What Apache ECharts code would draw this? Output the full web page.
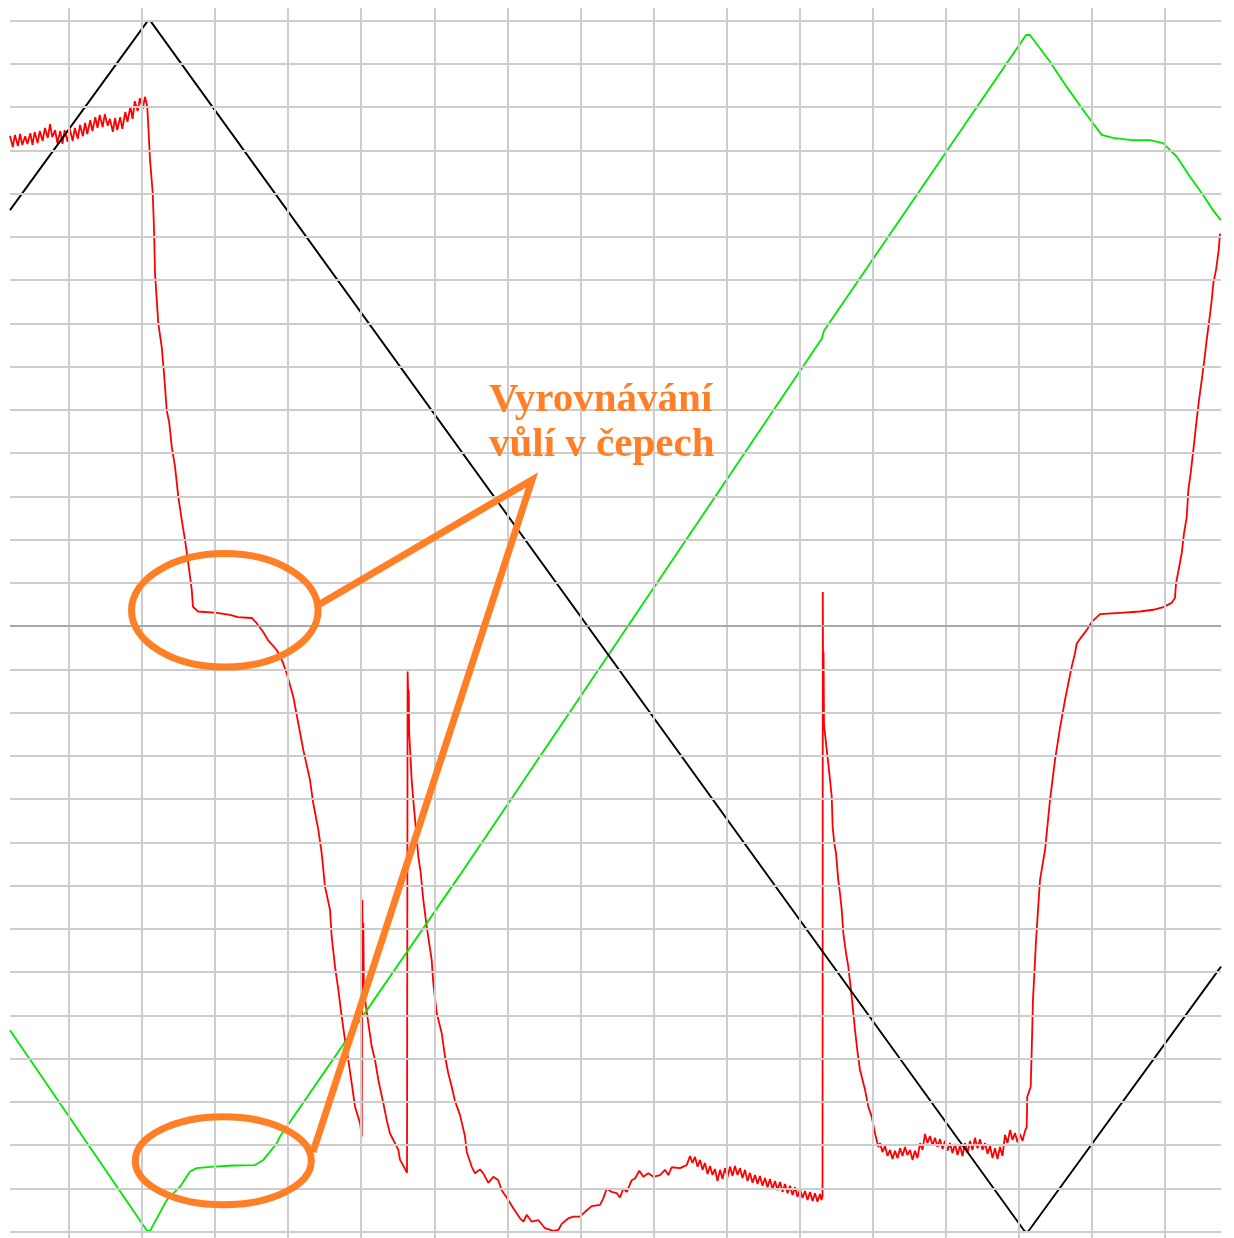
<!DOCTYPE html>
<html>
<head>
<meta charset="utf-8">
<script src="https://cdn.jsdelivr.net/npm/echarts@6/dist/echarts.min.js"></script>
<style>
  html, body { margin: 0; padding: 0; background: #ffffff; }
  #chart { width: 1234px; height: 1238px; }
</style>
</head>
<body>
<div id="chart"></div>
<script>
// Units: one screen division per grid cell. x = time divisions, y = signal divisions (0 = centre line).
const X_MIN = -0.808, X_MAX = 15.770;
const Y_MIN = -14.146, Y_MAX = 14.294;

// Graticule positions (divisions)
const gridXs = [0, 1, 2, 3, 4, 5, 6, 7, 8, 9, 10, 11, 12, 13, 14, 15];
const gridYs = [-14, -13, -12, -11, -10, -9, -8, -7, -6, -5, -4, -3, -2, -1, 1, 2, 3, 4, 5, 6, 7, 8, 9, 10, 11, 12, 13, 14];
const centreY = 0;

// Black trace: triangular drive signal
const blackTrace = [
  [-0.808, 9.62], [1.075, 13.99], [1.116, 13.99], [13.087, -14.0], [13.128, -14.0], [15.770, -7.87]
];

// Green trace: position with two dwell plateaus
const greenTrace = [
  [-0.808, -9.34], [1.068, -13.98], [1.109, -13.98], [1.337, -13.27], [1.520, -12.96], [1.656, -12.61],
  [1.748, -12.53], [1.930, -12.50], [2.249, -12.47], [2.546, -12.46], [2.660, -12.34], [2.843, -11.96],
  [2.888, -11.80], [5.352, -5.75], [10.308, 6.66], [10.335, 6.83], [13.101, 13.67], [13.155, 13.67],
  [13.429, 13.05], [13.658, 12.47], [13.932, 11.82], [14.137, 11.36], [14.292, 11.29], [14.548, 11.24],
  [14.798, 11.24], [14.976, 11.17], [15.163, 10.86], [15.346, 10.39], [15.524, 9.97], [15.661, 9.62],
  [15.766, 9.39]
];

// Red trace, in consecutive sections
const redLead = [
  [-0.808, 11.34], [-0.77, 11.08], [-0.74, 11.36], [-0.70, 11.10], [-0.67, 11.38], [-0.64, 11.13], [-0.60, 11.33],
  [-0.57, 11.15], [-0.53, 11.40], [-0.50, 11.13], [-0.47, 11.43], [-0.43, 11.17], [-0.40, 11.45], [-0.36, 11.22],
  [-0.33, 11.52], [-0.29, 11.29], [-0.26, 11.61], [-0.23, 11.31], [-0.19, 11.47], [-0.16, 11.17], [-0.12, 11.45],
  [-0.09, 11.15], [-0.06, 11.47], [-0.02, 11.20], [0.01, 11.50], [0.05, 11.22], [0.08, 11.52], [0.12, 11.27],
  [0.15, 11.59], [0.19, 11.33], [0.22, 11.64], [0.25, 11.38], [0.29, 11.70], [0.32, 11.45], [0.36, 11.77],
  [0.39, 11.52], [0.42, 11.82], [0.46, 11.54], [0.49, 11.84], [0.53, 11.57], [0.56, 11.73], [0.60, 11.43],
  [0.63, 11.75], [0.66, 11.47], [0.70, 11.77], [0.73, 11.50], [0.77, 11.89], [0.80, 11.66], [0.84, 12.01],
  [0.87, 11.73], [0.90, 12.14], [0.94, 11.91], [0.97, 12.21], [1.01, 11.96], [1.04, 12.24], [1.07, 12.03]
];
const redFall = [
  [1.086, 11.55], [1.109, 10.78], [1.146, 10.01], [1.164, 9.16], [1.177, 8.16], [1.201, 7.54], [1.222, 7.00],
  [1.269, 6.46], [1.300, 5.85], [1.337, 5.00], [1.373, 4.69], [1.406, 4.15], [1.451, 3.69], [1.496, 2.99],
  [1.543, 2.46], [1.588, 1.99], [1.633, 1.45], [1.680, 0.84], [1.697, 0.45], [1.766, 0.34], [2.022, 0.31],
  [2.204, 0.26], [2.313, 0.21], [2.501, 0.19], [2.569, 0.07], [2.656, -0.13], [2.724, -0.32], [2.843, -0.55],
  [2.930, -0.85], [2.980, -1.09], [3.070, -1.63], [3.139, -2.25], [3.207, -2.86], [3.299, -3.56], [3.344, -4.10],
  [3.413, -4.71], [3.459, -5.25], [3.504, -6.02], [3.573, -6.56], [3.596, -7.18], [3.641, -7.87], [3.687, -8.41],
  [3.733, -9.03], [3.778, -9.57], [3.823, -10.03], [3.870, -10.57], [3.915, -11.11], [3.984, -11.49], [4.007, -11.80]
];
const redSpikes = [
  [4.015, -6.33], [4.025, -8.30], [4.029, -6.86], [4.036, -8.41], [4.066, -8.80], [4.097, -9.18], [4.144, -9.72],
  [4.189, -10.03], [4.234, -10.49], [4.303, -11.03], [4.349, -11.42], [4.394, -11.73], [4.463, -11.96],
  [4.508, -12.11], [4.531, -12.34], [4.572, -12.46], [4.606, -12.57], [4.627, -12.64],
  [4.635, -1.05], [4.645, -1.71], [4.650, -1.48], [4.657, -2.47], [4.691, -3.56], [4.713, -4.02], [4.746, -4.64],
  [4.782, -5.33], [4.815, -5.71], [4.850, -6.33], [4.897, -6.95], [4.965, -7.72], [4.987, -8.26], [5.034, -8.95],
  [5.102, -9.41], [5.147, -9.95], [5.192, -10.34], [5.239, -10.65], [5.284, -10.98], [5.352, -11.30], [5.421, -11.80]
];
const redFloor = [
  [5.444, -12.15], [5.513, -12.50], [5.558, -12.65], [5.626, -12.56], [5.671, -12.65], [5.740, -12.87],
  [5.808, -12.73], [5.877, -12.81], [5.923, -13.04], [6.014, -13.27], [6.082, -13.46], [6.174, -13.69],
  [6.219, -13.77], [6.266, -13.61], [6.334, -13.77], [6.424, -13.73], [6.516, -13.92], [6.630, -13.98],
  [6.698, -13.96], [6.745, -13.82], [6.835, -13.69], [6.903, -13.65], [6.995, -13.65], [7.064, -13.54],
  [7.155, -13.41], [7.269, -13.38], [7.314, -13.23], [7.361, -13.00], [7.429, -13.08], [7.498, -13.11],
  [7.543, -13.21], [7.588, -13.00], [7.635, -13.08], [7.703, -12.81], [7.748, -12.77], [7.807, -12.59],
  [7.862, -12.73], [7.930, -12.65], [7.999, -12.73], [8.090, -12.69], [8.159, -12.57], [8.204, -12.69],
  [8.250, -12.51], [8.364, -12.53], [8.456, -12.46],
  [8.501, -12.25], [8.535, -12.41], [8.570, -12.27], [8.604, -12.50], [8.638, -12.34], [8.672, -12.57],
  [8.706, -12.41], [8.741, -12.67], [8.775, -12.48], [8.809, -12.69], [8.843, -12.55], [8.877, -12.83],
  [8.912, -12.57], [8.946, -12.78], [8.980, -12.53], [9.014, -12.74], [9.049, -12.50], [9.083, -12.71],
  [9.117, -12.48], [9.151, -12.69], [9.185, -12.53], [9.220, -12.76], [9.254, -12.57], [9.288, -12.83],
  [9.322, -12.64], [9.357, -12.87], [9.391, -12.69], [9.425, -12.90], [9.459, -12.71], [9.493, -12.94],
  [9.528, -12.76], [9.562, -12.97], [9.596, -12.78], [9.630, -13.01], [9.665, -12.83], [9.699, -13.04],
  [9.733, -12.85], [9.767, -13.08], [9.802, -12.90], [9.836, -13.11], [9.870, -12.94], [9.904, -13.15],
  [9.938, -12.97], [9.973, -13.20], [10.007, -13.01], [10.041, -13.22], [10.075, -13.06], [10.110, -13.27],
  [10.144, -13.08], [10.178, -13.29], [10.212, -13.11], [10.246, -13.31], [10.281, -13.13], [10.301, -13.27]
];
const redReturn = [
  [10.315, -13.18], [10.319, 0.79], [10.324, -2.17], [10.329, -0.60], [10.335, -2.26], [10.363, -2.71],
  [10.394, -3.17], [10.418, -3.56], [10.441, -3.94], [10.454, -4.64], [10.476, -5.02], [10.500, -5.25],
  [10.531, -5.87], [10.554, -6.18], [10.578, -6.56], [10.600, -7.10], [10.637, -7.56], [10.668, -7.87],
  [10.719, -8.64], [10.760, -9.34], [10.791, -9.80], [10.828, -10.26], [10.897, -10.72], [10.942, -11.11],
  [10.988, -11.34], [11.034, -11.73], [11.079, -12.04],
  [11.102, -11.95], [11.136, -12.16], [11.170, -12.02], [11.205, -12.25], [11.239, -12.11], [11.273, -12.32],
  [11.307, -12.13], [11.342, -12.30], [11.376, -12.07], [11.410, -12.25], [11.444, -12.04], [11.478, -12.23],
  [11.513, -12.11], [11.547, -12.34], [11.581, -12.13], [11.615, -12.30], [11.650, -11.95], [11.684, -12.11],
  [11.718, -11.74], [11.752, -11.95], [11.786, -11.79], [11.821, -12.00], [11.855, -11.83], [11.889, -12.04],
  [11.923, -11.86], [11.958, -12.09], [11.992, -11.90], [12.026, -12.13], [12.060, -11.95], [12.094, -12.18],
  [12.129, -11.97], [12.163, -12.23], [12.197, -12.00], [12.231, -12.25], [12.266, -11.95], [12.300, -12.18],
  [12.334, -11.90], [12.368, -12.11], [12.402, -11.83], [12.437, -12.07], [12.471, -11.86], [12.505, -12.11],
  [12.539, -11.95], [12.574, -12.20], [12.608, -12.02], [12.642, -12.30], [12.676, -12.07], [12.710, -12.32],
  [12.745, -12.04], [12.779, -12.25], [12.813, -11.76], [12.847, -11.95], [12.882, -11.65], [12.916, -11.88],
  [12.950, -11.72], [12.984, -11.93], [13.018, -11.74], [13.053, -11.90], [13.087, -11.67], [13.110, -11.58]
];
const redRise = [
  [13.118, -10.88], [13.165, -10.65], [13.179, -9.80], [13.196, -8.64], [13.238, -7.26], [13.292, -5.87],
  [13.333, -5.45], [13.361, -5.18], [13.429, -4.02], [13.498, -3.09], [13.566, -2.35], [13.634, -1.71],
  [13.680, -1.32], [13.726, -0.94], [13.771, -0.63], [13.795, -0.40], [13.863, -0.24], [13.932, -0.09],
  [14.000, 0.10], [14.114, 0.28], [14.387, 0.31], [14.661, 0.34], [14.843, 0.38], [14.980, 0.44],
  [15.095, 0.54], [15.140, 0.65], [15.154, 0.99], [15.199, 1.38], [15.232, 1.69], [15.264, 2.15],
  [15.301, 2.53], [15.323, 3.15], [15.355, 3.54], [15.391, 4.07], [15.437, 4.77], [15.469, 5.23],
  [15.506, 5.69], [15.542, 6.16], [15.574, 6.62], [15.610, 7.08], [15.643, 7.54], [15.665, 7.93],
  [15.702, 8.24], [15.739, 8.70], [15.756, 9.08]
];
const redTrace = [].concat(redLead, redFall, redSpikes, redFloor, redReturn, redRise);

// Annotation text
const noteLines = ['Vyrovnávání', 'vůlí v čepech'];

const ORANGE = '#ff7f27';
const NOTE_FONT = 'bold 41px "Liberation Serif", "Times New Roman", serif';
const chart = echarts.init(document.getElementById('chart'), null, { renderer: 'canvas' });

const graticule = gridXs.map(v => ({ xAxis: v }))
  .concat(gridYs.map(v => ({ yAxis: v })))
  .concat([{ yAxis: centreY, lineStyle: { color: '#a8a8a8', width: 2 } }]);

function trace(name, data, color, width, z) {
  return {
    name, type: 'line', data, z,
    showSymbol: false, symbol: 'none', smooth: false,
    lineStyle: { color, width },
    emphasis: { disabled: true }, silent: true, animation: false
  };
}

chart.setOption({
  backgroundColor: '#ffffff',
  animation: false,
  grid: { left: 10, right: 13, top: 8, bottom: 0, containLabel: false },
  xAxis: { type: 'value', min: X_MIN, max: X_MAX, show: false },
  yAxis: { type: 'value', min: Y_MIN, max: Y_MAX, show: false },
  series: [
    {
      name: 'graticule', type: 'line', data: [], z: 1, silent: true, animation: false,
      markLine: {
        silent: true, animation: false, symbol: ['none', 'none'],
        label: { show: false }, emphasis: { disabled: true },
        lineStyle: { color: '#cdcdcd', width: 2, type: 'solid' },
        data: graticule
      }
    },
    trace('red', redTrace, '#ff0000', 1.8, 2),
    trace('green', greenTrace, '#00e600', 1.8, 3),
    trace('black', blackTrace, '#000000', 1.9, 4)
  ],
  graphic: [
    { type: 'ellipse', z: 100, silent: true,
      shape: { cx: 224.8, cy: 610.3, rx: 93.3, ry: 56.8 },
      style: { fill: null, stroke: ORANGE, lineWidth: 7 } },
    { type: 'ellipse', z: 100, silent: true,
      shape: { cx: 223.3, cy: 1160.8, rx: 88, ry: 44 },
      style: { fill: null, stroke: ORANGE, lineWidth: 7 } },
    { type: 'polyline', z: 100, silent: true,
      shape: { points: [[320, 604], [532, 480], [313, 1152]] },
      style: { fill: null, stroke: ORANGE, lineWidth: 7, lineJoin: 'miter' } },
    { type: 'text', z: 101, silent: true, x: 489, y: 400,
      style: { text: noteLines[0], font: NOTE_FONT, fill: ORANGE, align: 'left', verticalAlign: 'middle' } },
    { type: 'text', z: 101, silent: true, x: 489, y: 445,
      style: { text: noteLines[1], font: NOTE_FONT, fill: ORANGE, align: 'left', verticalAlign: 'middle' } }
  ]
});
</script>
</body>
</html>
